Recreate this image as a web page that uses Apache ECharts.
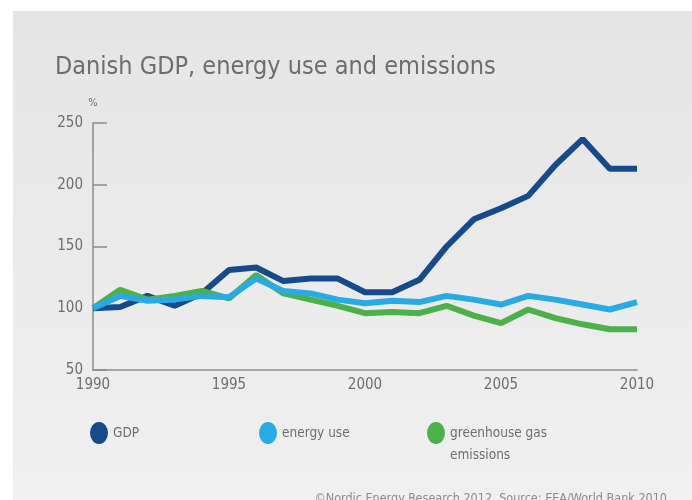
<!DOCTYPE html>
<html>
<head>
<meta charset="utf-8">
<script src="https://cdn.jsdelivr.net/npm/echarts@6/dist/echarts.min.js"></script>
<style>
  html, body { margin: 0; padding: 0; background: #fff; }
  #chart { width: 692px; height: 500px; }
</style>
</head>
<body>
<div id="chart"></div>
<script>
// years on the x axis
const years = ['1990','1991','1992','1993','1994','1995','1996','1997','1998','1999','2000',
  '2001','2002','2003','2004','2005','2006','2007','2008','2009','2010'];
// index, 1990 = 100
const gdp = [100, 101, 110, 102, 112, 131, 133, 122, 124, 124, 113,
  113, 123, 150, 172, 181, 191, 216, 237, 213, 213];
const energyUse = [100, 110, 106, 107, 110, 109, 124, 114, 112, 107, 104,
  106, 105, 110, 107, 103, 110, 107, 103, 99, 105];
const emissions = [100, 115, 107, 110, 114, 108, 127, 112, 107, 102, 96,
  97, 96, 102, 94, 88, 99, 92, 87, 83, 83];
const yTicks = [50, 100, 150, 200, 250];

const font = '"DejaVu Sans Condensed", "Liberation Sans Narrow", sans-serif';
const grey = '#6e6e6e';
const ellipse = 'path://M9,0A9,11,0,1,1,9,22A9,11,0,1,1,9,0Z';

function legendAt(left, top, name, extra) {
  return Object.assign({
    left: left,
    top: top,
    data: [name],
    icon: ellipse,
    itemWidth: 18,
    itemHeight: 22,
    itemGap: 0,
    selectedMode: false,
    textStyle: { fontFamily: font, fontSize: 13.5, color: grey, lineHeight: 22 }
  }, extra || {});
}

const chart = echarts.init(document.getElementById('chart'));
chart.setOption({
  animation: false,
  graphic: [{
    type: 'rect',
    left: 13, top: 11,
    shape: { width: 679, height: 489 },
    style: {
      fill: new echarts.graphic.LinearGradient(0, 0, 0, 1, [
        { offset: 0, color: '#e5e5e5' },
        { offset: 1, color: '#f0f0f0' }
      ])
    },
    z: -10
  }],
  title: [{
    text: 'Danish GDP, energy use and emissions',
    left: 50, top: 50,
    textStyle: { fontFamily: font, fontSize: 25, fontWeight: 'normal', color: '#6d6d6d' }
  }, {
    text: '©Nordic Energy Research 2012. Source: EEA/World Bank 2010',
    right: 20, top: 487,
    textStyle: { fontFamily: font, fontSize: 12.5, fontWeight: 'normal', color: '#8a8a8a' }
  }],
  legend: [
    legendAt(85, 417, 'GDP'),
    legendAt(254, 417, 'energy use'),
    legendAt(422, 395, 'greenhouse gas emissions', {
      formatter: () => '\ngreenhouse gas\nemissions'
    })
  ],
  grid: { left: 93, right: 55, top: 123, bottom: 130 },
  xAxis: {
    type: 'category',
    data: years,
    boundaryGap: false,
    axisLine: { lineStyle: { color: '#8c8c8c', width: 1.5 } },
    axisTick: { show: false },
    axisLabel: { interval: 4, color: grey, fontFamily: font, fontSize: 15, margin: 8 }
  },
  yAxis: {
    type: 'value',
    min: yTicks[0],
    max: yTicks[yTicks.length - 1],
    interval: 50,
    name: '%',
    nameGap: 14,
    nameTextStyle: { color: grey, fontFamily: font, fontSize: 11 },
    axisLine: { show: true, lineStyle: { color: '#8c8c8c', width: 1.5 } },
    axisTick: { show: true, inside: true, length: 14, lineStyle: { color: '#8c8c8c', width: 1.5 } },
    axisLabel: { color: grey, fontFamily: font, fontSize: 15, margin: 10 },
    splitLine: { show: false }
  },
  series: [
    {
      name: 'GDP', type: 'line', data: gdp, symbol: 'none', z: 2,
      lineStyle: { color: '#174a8b', width: 6 }, itemStyle: { color: '#174a8b' }
    },
    {
      name: 'greenhouse gas emissions', type: 'line', data: emissions, symbol: 'none', z: 3,
      lineStyle: { color: '#4cb04b', width: 6 }, itemStyle: { color: '#4cb04b' }
    },
    {
      name: 'energy use', type: 'line', data: energyUse, symbol: 'none', z: 4,
      lineStyle: { color: '#2aaae4', width: 6 }, itemStyle: { color: '#2aaae4' }
    }
  ]
});
</script>
</body>
</html>
